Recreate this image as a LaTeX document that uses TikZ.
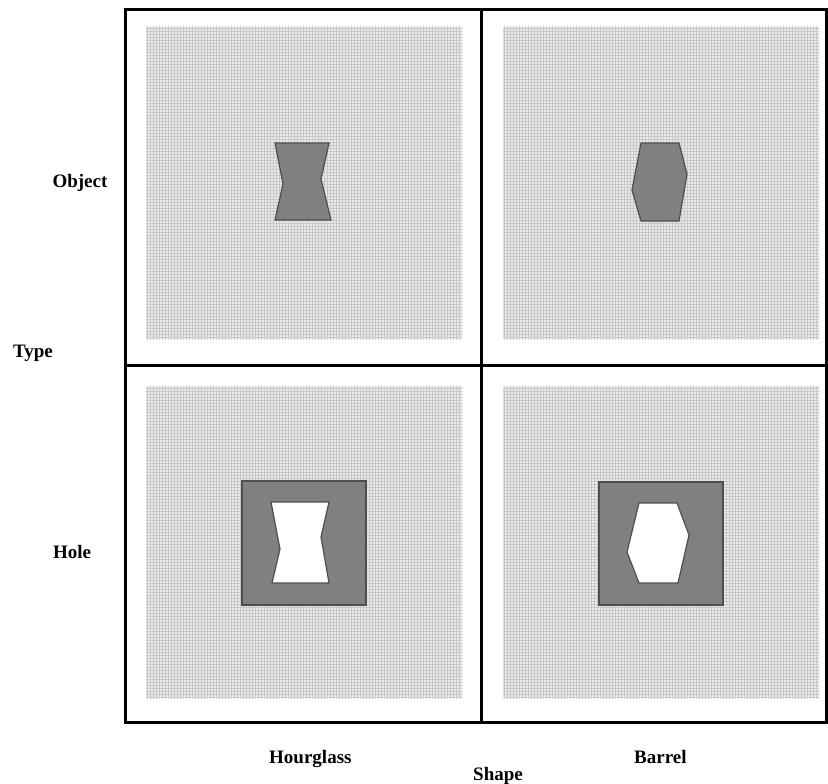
\documentclass[tikz,border=0pt]{standalone}
\usepackage{fontspec}
\setmainfont{Liberation Serif}
\usetikzlibrary{patterns}
\definecolor{panelbase}{HTML}{EBEBEB}
\definecolor{panelgrid}{HTML}{C8C8C8}
\definecolor{solidgray}{HTML}{808080}
\definecolor{edgegray}{HTML}{4E4E4E}
\begin{document}
\begin{tikzpicture}[x=1pt,y=-1pt,
  lbl/.style={font=\bfseries\fontsize{19}{22}\selectfont, inner sep=0pt},
  panel/.style={fill=panelbase},
  gridtex/.style={pattern=grid, pattern color=panelgrid},
  solid/.style={fill=solidgray, draw=edgegray, line width=1.2pt, line join=miter},
  hole/.style={fill=white, draw=edgegray, line width=1.2pt},
  frame/.style={line width=3pt, draw=black}]
\useasboundingbox (0,0) rectangle (828,784);
% panels
\foreach \x/\y in {146/27,503/27,146/386,503/386}{
  \fill[panel] (\x,\y) rectangle ++(316,312);
  \fill[gridtex] (\x,\y) rectangle ++(316,312);
}
% object hourglass
\draw[solid] (275,143) -- (329,143) -- (321,179) -- (331,220) -- (275,220) -- (283,184) -- cycle;
% object barrel
\draw[solid] (641,143) -- (679,143) -- (687,174) -- (679,221) -- (641,221) -- (632,190) -- cycle;
% hole hourglass
\draw[solid] (242,481) rectangle (366,605);
\draw[hole] (271,502) -- (329,502) -- (321,537) -- (329,583) -- (272,583) -- (280,549) -- cycle;
% hole barrel
\draw[solid] (599,482) rectangle (723,605);
\draw[hole] (639,503) -- (677,503) -- (689,535) -- (678,583) -- (639,583) -- (627,552) -- cycle;
% frame
\draw[frame] (125,10) rectangle (826,722);
\coordinate (vt) at (481,10); \coordinate (vb) at (481,722);
\coordinate (hl) at (125,365); \coordinate (hr) at (826,365);
\draw[frame] (vt) -- (vb);
\draw[frame] (hl) -- (hr);
% labels
\node[lbl, anchor=base] (object) at (80,187) {Object};
\node[lbl, anchor=base] (type) at (33,357) {Type};
\node[lbl, anchor=base] (hole) at (72,558) {Hole};
\node[lbl, anchor=base west] (hourglass) at (269,763) {Hourglass};
\node[lbl, anchor=base west] (barrel) at (634,763) {Barrel};
\node[lbl, anchor=base west] (shape) at (473,780) {Shape};
\end{tikzpicture}
\end{document}
